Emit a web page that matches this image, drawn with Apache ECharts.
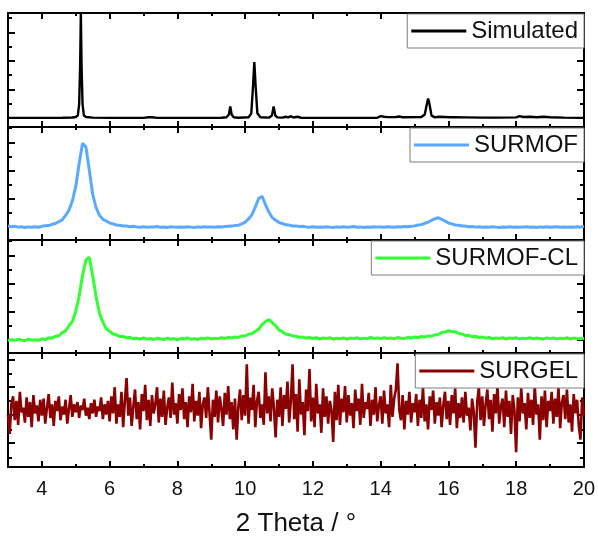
<!DOCTYPE html>
<html>
<head>
<meta charset="utf-8">
<script src="https://cdn.jsdelivr.net/npm/echarts@6/dist/echarts.min.js"></script>
<style>
html,body{margin:0;padding:0;background:#fff;}
#chart{width:598px;height:544px;}
</style>
</head>
<body>
<div id="chart"></div>
<script>
// ---------- DATA ----------
const seriesNames = ['Simulated', 'SURMOF', 'SURMOF-CL', 'SURGEL'];
const xTickLabels = [4, 6, 8, 10, 12, 14, 16, 18, 20];
const xMinorTickValues = [5, 7, 9, 11, 13, 15, 17, 19];

// Simulated pattern: [2theta, intensity]
const simulated = [
[3.0,0.080],[4.0,0.080],[4.6,0.081],[4.9,0.083],[5.0,0.088],[5.06,0.10],[5.1,0.20],[5.13,0.55],[5.15,1.0],
[5.17,0.55],[5.2,0.20],[5.24,0.10],[5.3,0.088],[5.5,0.082],[6.0,0.080],[7.0,0.080],[7.15,0.085],[7.2,0.098],
[7.25,0.085],[7.4,0.080],[9.3,0.081],[9.45,0.085],[9.52,0.11],[9.56,0.18],[9.6,0.11],[9.66,0.085],[9.8,0.081],
[10.1,0.085],[10.18,0.12],[10.23,0.35],[10.27,0.57],[10.31,0.35],[10.36,0.12],[10.45,0.085],[10.7,0.082],
[10.79,0.10],[10.84,0.18],[10.89,0.10],[10.95,0.084],[11.1,0.082],[11.2,0.09],[11.27,0.084],[11.35,0.095],
[11.42,0.083],[11.55,0.09],[11.65,0.081],[12.0,0.080],[13.0,0.080],[13.9,0.081],[14.0,0.095],[14.05,0.105],
[14.1,0.09],[14.2,0.087],[14.45,0.088],[14.55,0.092],[14.65,0.085],[15.2,0.088],[15.3,0.11],[15.36,0.2],
[15.4,0.25],[15.44,0.2],[15.5,0.10],[15.6,0.085],[15.7,0.09],[16.05,0.085],[16.1,0.095],[16.15,0.085],
[16.5,0.084],[17.0,0.082],[17.5,0.082],[18.0,0.084],[18.1,0.095],[18.2,0.088],[18.4,0.09],[18.6,0.086],
[18.8,0.09],[19.0,0.085],[19.4,0.082],[20.0,0.080]
];

// Measured patterns sampled on a uniform 2theta grid
const surmofStart = 3.0, surmofStep = 0.1;
const surmof = [
.124,.118,.121,.114,.117,.111,.116,.112,.117,.113,
.121,.127,.128,.139,.146,.162,.178,.218,.263,.347,
.474,.677,.856,.822,.617,.403,.287,.218,.183,.168,
.150,.143,.133,.131,.124,.124,.118,.121,.116,.113,
.117,.112,.116,.114,.119,.113,.115,.111,.117,.114,
.112,.116,.113,.118,.114,.111,.116,.113,.117,.114,
.116,.113,.118,.116,.119,.122,.123,.129,.131,.143,
.158,.187,.224,.292,.368,.387,.312,.247,.198,.175,
.154,.146,.134,.132,.124,.125,.119,.121,.116,.113,
.117,.112,.115,.113,.118,.114,.111,.116,.113,.117,
.112,.115,.119,.113,.116,.111,.115,.113,.118,.114,
.116,.112,.117,.115,.113,.118,.115,.119,.117,.122,
.125,.133,.136,.148,.157,.175,.188,.197,.182,.168,
.150,.143,.133,.130,.124,.123,.117,.120,.114,.117,
.112,.116,.113,.118,.114,.111,.115,.112,.117,.113,
.116,.112,.114,.118,.113,.115,.111,.116,.113,.117,
.112,.115,.118,.113,.116,.112,.115,.113,.117,.114,
.121
];

const surmofClStart = 3.0, surmofClStep = 0.1;
const surmofCl = [
.108,.118,.112,.121,.115,.109,.122,.114,.118,.111,
.126,.119,.135,.131,.147,.152,.181,.196,.241,.279,
.368,.502,.689,.822,.848,.683,.497,.352,.273,.214,
.193,.168,.161,.145,.147,.133,.139,.126,.131,.122,
.134,.123,.129,.118,.131,.125,.119,.132,.122,.128,
.117,.129,.124,.133,.121,.127,.119,.131,.126,.134,
.124,.131,.127,.136,.129,.138,.134,.142,.138,.151,
.152,.166,.171,.192,.209,.251,.279,.296,.268,.241,
.204,.188,.166,.163,.151,.148,.139,.141,.132,.137,
.128,.135,.124,.133,.127,.136,.122,.131,.126,.134,
.121,.132,.127,.135,.124,.131,.126,.138,.129,.134,
.127,.136,.128,.133,.125,.137,.131,.128,.139,.133,
.141,.135,.146,.142,.151,.149,.161,.163,.181,.185,
.197,.191,.189,.172,.169,.155,.157,.143,.148,.137,
.141,.131,.137,.126,.134,.129,.136,.124,.133,.128,
.135,.123,.131,.127,.136,.125,.132,.129,.122,.134,
.127,.133,.124,.131,.127,.135,.123,.132,.128,.126,
.131
];

const surgelStart = 3.0, surgelStep = 0.05;
const surgel = [
.46,.29,.55,.62,.41,.58,.37,.66,.48,.52,.39,.61,.44,.57,.35,.63,.47,.54,.40,.59,
.45,.60,.38,.52,.64,.43,.55,.36,.58,.49,.62,.41,.53,.46,.59,.38,.51,.63,.44,.55,
.48,.57,.43,.54,.50,.60,.45,.52,.42,.56,.47,.59,.44,.53,.49,.61,.42,.55,.46,.58,
.40,.62,.47,.70,.38,.55,.44,.66,.35,.58,.78,.45,.61,.36,.53,.68,.42,.57,.33,.64,
.49,.72,.41,.59,.36,.63,.47,.55,.70,.39,.60,.44,.67,.37,.52,.61,.43,.74,.46,.56,
.38,.64,.50,.69,.42,.57,.35,.62,.48,.73,.40,.58,.45,.66,.34,.55,.61,.43,.70,.47,
.24,.59,.44,.67,.39,.62,.51,.36,.65,.46,.71,.42,.57,.33,.60,.24,.53,.68,.41,.63,
.45,.90,.38,.61,.50,.72,.35,.58,.66,.43,.55,.37,.83,.47,.62,.40,.69,.52,.26,.59,
.44,.70,.36,.63,.51,.75,.39,.58,.90,.42,.64,.31,.77,.46,.57,.28,.68,.49,.86,.40,
.61,.35,.73,.47,.55,.30,.69,.44,.62,.38,.58,.50,.22,.66,.41,.72,.37,.60,.48,.71,
.39,.63,.45,.56,.34,.68,.49,.60,.37,.73,.43,.57,.51,.65,.36,.59,.46,.70,.40,.54,
.62,.38,.67,.47,.55,.35,.72,.44,.60,.68,.91,.50,.41,.63,.33,.58,.46,.66,.39,.56,
.48,.64,.36,.59,.43,.70,.40,.55,.33,.62,.50,.67,.38,.57,.45,.61,.35,.54,.66,.42,
.58,.37,.63,.47,.69,.34,.56,.43,.61,.39,.66,.45,.52,.32,.60,.48,.17,.57,.70,.41,
.62,.36,.55,.68,.42,.59,.31,.64,.47,.72,.38,.53,.60,.35,.67,.44,.58,.29,.63,.50,
.13,.61,.40,.69,.47,.56,.33,.65,.43,.59,.37,.71,.46,.55,.24,.62,.41,.67,.35,.58,
.49,.66,.38,.60,.44,.70,.34,.57,.63,.42,.68,.39,.55,.31,.64,.47,.59,.36,.24,.61,
.45
];

// ---------- CHART ----------
function toPairs(start, step, vals) {
  return vals.map(function (v, i) { return [+(start + i * step).toFixed(3), v]; });
}

const colors = ['#000000', '#5aa9ff', '#33ff33', '#8b0000'];
const lineWidths = [2.4, 3, 3, 2.6];
const panelData = [
  simulated,
  toPairs(surmofStart, surmofStep, surmof),
  toPairs(surmofClStart, surmofClStep, surmofCl),
  toPairs(surgelStart, surgelStep, surgel)
];

const gridTops = [13, 127, 240, 353];
const gridHeights = [114, 113, 113, 114];
const yMajor = [
  [0.08, 0.33, 0.58, 0.83],
  [0.115, 0.365, 0.615, 0.865],
  [0.115, 0.365, 0.615, 0.865],
  [0.21, 0.455, 0.70, 0.945]
];
const yMinor = [
  [0.205, 0.455, 0.705, 0.955],
  [0.24, 0.49, 0.74, 0.99],
  [0.24, 0.49, 0.74, 0.99],
  [0.085, 0.33, 0.58, 0.82]
];

const FONT = 'Liberation Sans, Arial, sans-serif';
const grids = [], xAxes = [], yAxes = [], series = [], legends = [];

function xAxisDef(g, pos, ticks, len, labeled) {
  const ax = {
    type: 'value', gridIndex: g, position: pos, min: 3, max: 20,
    axisLine: { show: true, onZero: false, lineStyle: { color: '#000', width: 2 } },
    axisTick: { show: true, inside: true, length: len, customValues: ticks, lineStyle: { color: '#000', width: 2 } },
    axisLabel: { show: false },
    splitLine: { show: false }
  };
  if (labeled) {
    ax.axisLabel = { show: true, customValues: xTickLabels, margin: 12, fontSize: 20, color: '#111', fontFamily: FONT };
    ax.name = '2 Theta / \u00b0';
    ax.nameLocation = 'middle';
    ax.nameGap = 44;
    ax.nameTextStyle = { fontSize: 26, color: '#111', fontFamily: FONT };
  }
  return ax;
}
function yAxisDef(g, pos, ticks, len) {
  return {
    type: 'value', gridIndex: g, position: pos, min: 0, max: 1,
    axisLine: { show: true, onZero: false, lineStyle: { color: '#000', width: 2 } },
    axisTick: { show: true, inside: true, length: len, customValues: ticks, lineStyle: { color: '#000', width: 2 } },
    axisLabel: { show: false },
    splitLine: { show: false }
  };
}

for (let i = 0; i < 4; i++) {
  grids.push({ left: 8, right: 14, top: gridTops[i], height: gridHeights[i], containLabel: false });
  xAxes.push(xAxisDef(i, 'bottom', xTickLabels, 6, i === 3));
  xAxes.push(xAxisDef(i, 'top', xTickLabels, 6, false));
  xAxes.push(xAxisDef(i, 'bottom', xMinorTickValues, 3, false));
  xAxes.push(xAxisDef(i, 'top', xMinorTickValues, 3, false));
  yAxes.push(yAxisDef(i, 'left', yMajor[i], 7));
  yAxes.push(yAxisDef(i, 'right', yMajor[i], 7));
  yAxes.push(yAxisDef(i, 'left', yMinor[i], 4));
  yAxes.push(yAxisDef(i, 'right', yMinor[i], 4));
  series.push({
    name: seriesNames[i], type: 'line', xAxisIndex: 4 * i, yAxisIndex: 4 * i,
    data: panelData[i], showSymbol: false, symbol: 'none', clip: true,
    lineStyle: { color: colors[i], width: lineWidths[i] },
    itemStyle: { color: colors[i] }
  });
  legends.push({
    data: [seriesNames[i]], right: 14, top: gridTops[i] + 1, orient: 'horizontal',
    backgroundColor: '#fff', borderColor: '#7f7f7f', borderWidth: 1,
    padding: [5, 6, 5, 4], itemWidth: 55, itemHeight: 3, itemGap: 5,
    icon: 'rect',
    textStyle: { fontSize: 24, color: '#111', fontFamily: FONT },
    selectedMode: false
  });
}

const chart = echarts.init(document.getElementById('chart'), null, { renderer: 'canvas' });
chart.setOption({
  animation: false,
  backgroundColor: '#fff',
  grid: grids,
  xAxis: xAxes,
  yAxis: yAxes,
  legend: legends,
  series: series
});
</script>
</body>
</html>
